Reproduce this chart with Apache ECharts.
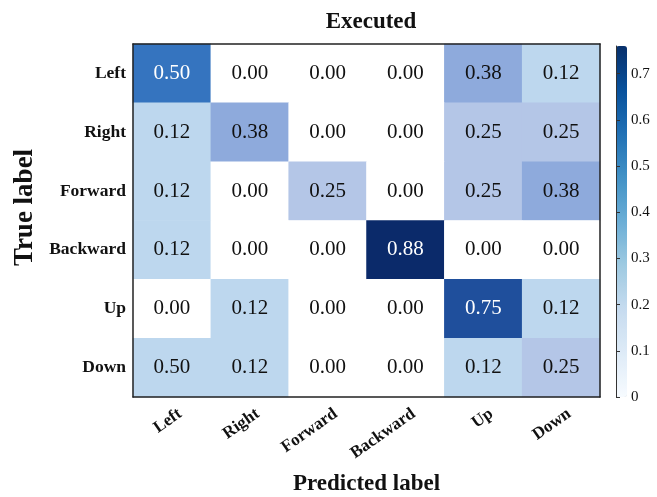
<!DOCTYPE html>
<html>
<head>
<meta charset="utf-8">
<script src="https://cdn.jsdelivr.net/npm/echarts@6/dist/echarts.min.js"></script>
<style>html,body{margin:0;padding:0;background:#fff}#c{width:657px;height:497px}</style>
</head>
<body>
<div id="c"></div>
<script>
// ---- data ----
const predictedLabels = ['Left', 'Right', 'Forward', 'Backward', 'Up', 'Down'];
const trueLabels = ['Left', 'Right', 'Forward', 'Backward', 'Up', 'Down'];
// printed values (rows = true label, cols = predicted label)
const rowLeft     = [0.50, 0.00, 0.00, 0.00, 0.38, 0.12];
const rowRight    = [0.12, 0.38, 0.00, 0.00, 0.25, 0.25];
const rowForward  = [0.12, 0.00, 0.25, 0.00, 0.25, 0.38];
const rowBackward = [0.12, 0.00, 0.00, 0.88, 0.00, 0.00];
const rowUp       = [0.00, 0.12, 0.00, 0.00, 0.75, 0.12];
const rowDown     = [0.50, 0.12, 0.00, 0.00, 0.12, 0.25];
// shade each cell shows in the picture (same as value except Down/Left, drawn as 0.12)
const shadeDown   = [0.12, 0.12, 0.00, 0.00, 0.12, 0.25];
const colorbarTicks = [0, 0.1, 0.2, 0.3, 0.4, 0.5, 0.6, 0.7];
const colorbarMax = 0.76;

const valueRows = [rowLeft, rowRight, rowForward, rowBackward, rowUp, rowDown];
const shadeRows = [rowLeft, rowRight, rowForward, rowBackward, rowUp, shadeDown];

const cells = [];
valueRows.forEach((row, r) => row.forEach((v, c) => {
  cells.push([c, r, shadeRows[r][c], v.toFixed(2)]);
}));

// colour anchors for cells
const anchors = [[0, '#ffffff'], [0.12, '#bdd7ee'], [0.25, '#b4c6e7'], [0.38, '#8eaadc'],
                 [0.50, '#3574bf'], [0.75, '#1f4f9c'], [0.88, '#0b2a6a']];
function hex2rgb(h){return [parseInt(h.slice(1,3),16),parseInt(h.slice(3,5),16),parseInt(h.slice(5,7),16)];}
function colorAt(t){
  for (let i = 0; i < anchors.length - 1; i++) {
    const [a, ca] = anchors[i], [b, cb] = anchors[i+1];
    if (t <= b + 1e-9) {
      const f = (t - a) / (b - a);
      const A = hex2rgb(ca), B = hex2rgb(cb);
      return 'rgb(' + A.map((x, k) => Math.round(x + (B[k] - x) * f)).join(',') + ')';
    }
  }
  return anchors[anchors.length - 1][1];
}
const cellColors = [];
for (let i = 0; i <= 88; i++) cellColors.push(colorAt(i / 100));

const serif = "'Liberation Serif', 'Times New Roman', serif";
const chart = echarts.init(document.getElementById('c'));
chart.setOption({
  animation: false,
  title: {
    text: 'Executed', left: 366, top: 6, textAlign: 'center',
    textStyle: {fontFamily: serif, fontWeight: 'bold', fontSize: 23, color: '#111'}
  },
  grid: [
    {left: 133, top: 44, right: 57, bottom: 100, outerBoundsMode: 'none', containLabel: false},
    {left: 616, top: 46, width: 11, height: 351, outerBoundsMode: 'none', containLabel: false}
  ],
  xAxis: [
    {
      type: 'category', data: predictedLabels, gridIndex: 0, position: 'bottom', z: 10,
      axisLine: {show: true, lineStyle: {color: '#222', width: 1.5}},
      axisTick: {show: false}, splitLine: {show: false},
      axisLabel: {interval: 0, rotate: 35, margin: 21, padding: [0, -10, 0, 0],
        fontFamily: serif, fontWeight: 'bold', fontSize: 17, color: '#111'},
      name: 'Predicted label', nameLocation: 'middle', nameGap: 76,
      nameTextStyle: {fontFamily: serif, fontWeight: 'bold', fontSize: 23, color: '#111'}
    },
    {
      type: 'category', data: predictedLabels, gridIndex: 0, position: 'top', z: 10,
      axisLine: {show: true, lineStyle: {color: '#222', width: 1.5}},
      axisTick: {show: false}, axisLabel: {show: false}, splitLine: {show: false}
    },
    {type: 'value', gridIndex: 1, show: false, min: 0, max: 1}
  ],
  yAxis: [
    {
      type: 'category', data: trueLabels, inverse: true, gridIndex: 0, position: 'left', z: 10,
      axisLine: {show: true, lineStyle: {color: '#222', width: 1.5}},
      axisTick: {show: false}, splitLine: {show: false},
      axisLabel: {margin: 7, fontFamily: serif, fontWeight: 'bold', fontSize: 17.5, color: '#111'},
      name: 'True label', nameLocation: 'middle', nameGap: 92, nameRotate: 90,
      nameTextStyle: {fontFamily: serif, fontWeight: 'bold', fontSize: 27, color: '#111', padding: [0, 0, 0, 26]}
    },
    {
      type: 'category', data: trueLabels, inverse: true, gridIndex: 0, position: 'right', z: 10,
      axisLine: {show: true, lineStyle: {color: '#222', width: 1.5}},
      axisTick: {show: false}, axisLabel: {show: false}, splitLine: {show: false}
    },
    {
      type: 'value', gridIndex: 1, position: 'right', min: 0, max: colorbarMax, z: 10,
      axisLine: {show: true, lineStyle: {color: '#333', width: 1}},
      axisTick: {show: true, length: 4, customValues: colorbarTicks, lineStyle: {color: '#333'}},
      splitLine: {show: false},
      axisLabel: {customValues: colorbarTicks, margin: 4, fontFamily: serif, fontSize: 15, color: '#111',
        formatter: v => (v === 0 ? '0' : v.toFixed(1))}
    }
  ],
  visualMap: [
    {
      type: 'continuous', show: false, min: 0, max: 0.88, dimension: 2, seriesIndex: 0,
      inRange: {color: cellColors}
    },
    {
      type: 'continuous', show: true, min: 0, max: colorbarMax, seriesIndex: 1, calculable: false,
      orient: 'vertical', left: 616, top: 46, itemWidth: 11, itemHeight: 351, padding: 0,
      text: null, showLabel: false, hoverLink: false,
      inRange: {color: ['#f7fbff', '#deebf7', '#c6dbef', '#9ecae1', '#6baed6', '#4292c6', '#2171b5', '#08519c', '#08306b']}
    }
  ],
  series: [
    {
      type: 'heatmap', xAxisIndex: 0, yAxisIndex: 0, data: cells,
      itemStyle: {borderWidth: 0},
      label: {
        show: true,
        formatter: p => (p.data[2] > 0.45 ? '{w|' : '{b|') + p.data[3] + '}',
        rich: {
          w: {color: '#ffffff', fontFamily: serif, fontSize: 21},
          b: {color: '#111111', fontFamily: serif, fontSize: 21}
        }
      }
    },
    {type: 'scatter', xAxisIndex: 2, yAxisIndex: 2, data: []}
  ]
});
</script>
</body>
</html>
